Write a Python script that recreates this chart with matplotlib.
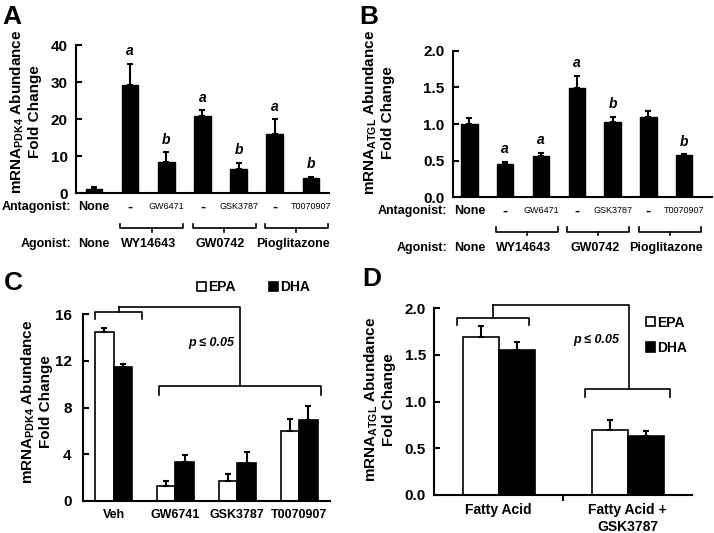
import numpy as np
import matplotlib
matplotlib.use('Agg')
import matplotlib.pyplot as plt
from matplotlib.transforms import blended_transform_factory

plt.rcParams['font.family'] = ['Liberation Sans', 'DejaVu Sans']
plt.rcParams['font.weight'] = 'bold'
plt.rcParams['axes.labelweight'] = 'bold'
plt.rcParams['mathtext.fontset'] = 'custom'
plt.rcParams['mathtext.rm'] = 'Liberation Sans:bold'
plt.rcParams['mathtext.bf'] = 'Liberation Sans:bold'
plt.rcParams['axes.linewidth'] = 1.5

# panels A/B: agonist / antagonist treatments
antagonists = ['None', '-', 'GW6471', '-', 'GSK3787', '-', 'T0070907']
agonists = ['None', 'WY14643', 'GW0742', 'Pioglitazone']
pdk4_mean = [1.1, 29.2, 8.5, 20.8, 6.5, 16.0, 4.0]
pdk4_err = [0.7, 5.7, 2.6, 1.6, 1.8, 4.0, 0.4]
pdk4_sig = ['', 'a', 'b', 'a', 'b', 'a', 'b']
atgl_mean = [1.0, 0.455, 0.57, 1.495, 1.03, 1.095, 0.58]
atgl_err = [0.08, 0.03, 0.04, 0.16, 0.07, 0.08, 0.01]
atgl_sig = ['', 'a', 'a', 'a', 'b', '', 'b']

# panel C: PDK4 with fatty acids + antagonists
c_groups = ['Veh', 'GW6741', 'GSK3787', 'T0070907']
c_epa = [14.5, 1.3, 1.7, 6.0]
c_epa_err = [0.3, 0.4, 0.55, 1.0]
c_dha = [11.45, 3.3, 3.2, 6.9]
c_dha_err = [0.25, 0.6, 0.95, 1.2]

# panel D: ATGL with fatty acids
d_groups = ['Fatty Acid', 'Fatty Acid +\nGSK3787']
d_epa = [1.69, 0.70]
d_epa_err = [0.12, 0.10]
d_dha = [1.555, 0.63]
d_dha_err = [0.08, 0.06]


def style_axes(ax):
    ax.spines['top'].set_visible(False)
    ax.spines['right'].set_visible(False)
    ax.tick_params(axis='y', direction='in', length=4, width=1.5, labelsize=11, pad=6)


def up_errors(ax, x, mean, err):
    ax.errorbar(x, mean, yerr=[np.zeros(len(err)), err], fmt='none', ecolor='black',
                elinewidth=1.5, capsize=2.2, capthick=1.5)


def treatment_panel(ax, mean, err, sig, ylim, yticks, ylabel, ylab_pos):
    x = np.arange(len(mean))
    ax.bar(x, mean, width=0.46, color='black', edgecolor='black')
    up_errors(ax, x, mean, err)
    for xi, m, e, s in zip(x, mean, err, sig):
        if s:
            ax.annotate(s, (xi, m + e), xytext=(0, 4), textcoords='offset points',
                        ha='center', va='bottom', fontsize=10, style='italic')
    ax.set_ylim(*ylim)
    ax.set_yticks(yticks)
    ax.set_xticks([])
    style_axes(ax)
    ax.set_ylabel(ylabel, fontsize=11, va='bottom')
    ax.yaxis.set_label_coords(*ylab_pos)

    tr = blended_transform_factory(ax.transData, ax.transAxes)
    y_ant, y_br, y_ag = -0.09, -0.235, -0.345
    ax.text(-0.62, y_ant, 'Antagonist:', transform=tr, ha='right', va='center', fontsize=9)
    for xi, name in zip(x, antagonists):
        if name == 'None':
            ax.text(xi, y_ant, name, transform=tr, ha='center', va='center', fontsize=9)
        elif name == '-':
            ax.text(xi, y_ant, name, transform=tr, ha='center', va='center', fontsize=11)
        else:
            ax.text(xi, y_ant, name, transform=tr, ha='center', va='center',
                    fontsize=6.5, fontweight='normal')
    ax.text(-0.62, y_ag, 'Agonist:', transform=tr, ha='right', va='center', fontsize=9)
    ax.text(0, y_ag, agonists[0], transform=tr, ha='center', va='center', fontsize=9)
    for k, name in enumerate(agonists[1:]):
        c = 2 * k + 1.5
        cb = c + 0.1
        ax.plot([cb - 0.87, cb - 0.87, cb + 0.87, cb + 0.87],
                [y_br + 0.03, y_br, y_br, y_br + 0.03], color='black', lw=1.2,
                transform=tr, clip_on=False)
        ax.plot([cb, cb], [y_br, y_br - 0.025], color='black', lw=1.2,
                transform=tr, clip_on=False)
        ax.text(c, y_ag, name, transform=tr, ha='center', va='center', fontsize=9)
    ax.set_xlim(-0.5, 6.5)


def sig_bracket(ax, x0, x1, y, drop, xm, peak):
    ax.plot([x0, x0, x1, x1], [y - drop, y, y, y - drop], color='black', lw=1.2, clip_on=False)
    ax.plot([xm, xm], [y, peak], color='black', lw=1.2, clip_on=False)


fig = plt.figure(figsize=(7.14, 5.33), dpi=100)

axA = fig.add_axes([0.1064, 0.6373, 0.3543, 0.2782])
treatment_panel(axA, pdk4_mean, pdk4_err, pdk4_sig, (0, 40), [0, 10, 20, 30, 40],
                'mRNA$_{\\mathbf{PDK4}}$ Abundance\nFold Change', (-0.135, 0.55))

axB = fig.add_axes([0.634, 0.6298, 0.3632, 0.2750])
treatment_panel(axB, atgl_mean, atgl_err, atgl_sig, (0, 2.0), [0, 0.5, 1.0, 1.5, 2.0],
                'mRNA$_{\\mathbf{ATGL}}$ Abundance\nFold Change', (-0.223, 0.58))
axB.set_yticklabels(['0.0', '0.5', '1.0', '1.5', '2.0'])
axB.set_xlim(-0.47, 6.78)

# panel C
axC = fig.add_axes([0.1158, 0.0606, 0.3464, 0.3497])
xc = np.arange(len(c_groups))
w = 0.3
axC.bar(xc - w / 2, c_epa, w, color='white', edgecolor='black', linewidth=1.2, label='EPA')
axC.bar(xc + w / 2, c_dha, w, color='black', edgecolor='black', linewidth=1.2, label='DHA')
up_errors(axC, xc - w / 2, c_epa, c_epa_err)
up_errors(axC, xc + w / 2, c_dha, c_dha_err)
axC.set_ylim(0, 16)
axC.set_yticks([0, 4, 8, 12, 16])
axC.set_xlim(-0.5, 3.5)
axC.set_xticks(xc, c_groups, fontsize=9)
axC.tick_params(axis='x', length=0, pad=6)
style_axes(axC)
axC.tick_params(axis='y', pad=8)
axC.set_ylabel('mRNA$_{\\mathbf{PDK4}}$ Abundance\nFold Change', fontsize=11, va='bottom')
axC.yaxis.set_label_coords(-0.118, 0.53)
axC.legend(loc='center left', bbox_to_anchor=(0.44, 1.145), ncol=2, frameon=False,
           handlelength=0.65, handleheight=0.65, handletextpad=0.15, columnspacing=2.4,
           fontsize=10, borderaxespad=0)
sig_bracket(axC, -0.30, 0.46, 16.17, 0.6, 0.08, 16.6)
axC.plot([0.08, 2.05, 2.05], [16.6, 16.6, 9.85], color='black', lw=1.2, clip_on=False)
sig_bracket(axC, 0.73, 3.35, 9.85, 0.78, 2.05, 9.85)
axC.text(1.58, 13.5, 'p ≤ 0.05', ha='center', va='center', fontsize=9, style='italic')

# panel D
axD = fig.add_axes([0.6083, 0.0713, 0.3609, 0.3503])
xd = np.arange(len(d_groups))
wd = 0.28
axD.bar(xd - wd / 2, d_epa, wd, color='white', edgecolor='black', linewidth=1.2, label='EPA')
axD.bar(xd + wd / 2, d_dha, wd, color='black', edgecolor='black', linewidth=1.2, label='DHA')
up_errors(axD, xd - wd / 2, d_epa, d_epa_err)
up_errors(axD, xd + wd / 2, d_dha, d_dha_err)
axD.set_ylim(0, 2.0)
axD.set_yticks([0, 0.5, 1.0, 1.5, 2.0], ['0.0', '0.5', '1.0', '1.5', '2.0'])
axD.set_xlim(-0.5, 1.5)
axD.set_xticks(xd, d_groups, fontsize=10)
axD.set_xticks([0.5], minor=True)
axD.tick_params(axis='x', which='major', length=0, pad=6)
axD.tick_params(axis='x', which='minor', direction='out', length=4, width=1.5)
style_axes(axD)
axD.set_ylabel('mRNA$_{\\mathbf{ATGL}}$ Abundance\nFold Change', fontsize=11, va='bottom')
axD.yaxis.set_label_coords(-0.148, 0.51)
axD.legend(loc='upper left', bbox_to_anchor=(0.8, 0.99), frameon=False,
           handlelength=0.65, handleheight=0.65, handletextpad=0.15, labelspacing=0.8,
           fontsize=10, borderaxespad=0)
sig_bracket(axD, -0.326, 0.238, 1.90, 0.08, -0.044, 2.035)
axD.plot([-0.044, 1.01, 1.01], [2.035, 2.035, 1.14], color='black', lw=1.2, clip_on=False)
sig_bracket(axD, 0.67, 1.33, 1.14, 0.09, 1.01, 1.14)
axD.text(0.756, 1.66, 'p ≤ 0.05', ha='center', va='center', fontsize=9, style='italic')

# panel letters
fig.text(0.003, 0.99, 'A', fontsize=19, va='top', ha='left')
fig.text(0.503, 0.99, 'B', fontsize=19, va='top', ha='left')
fig.text(0.006, 0.492, 'C', fontsize=19, va='top', ha='left')
fig.text(0.507, 0.499, 'D', fontsize=19, va='top', ha='left')

fig.savefig('out.png', dpi=100)
